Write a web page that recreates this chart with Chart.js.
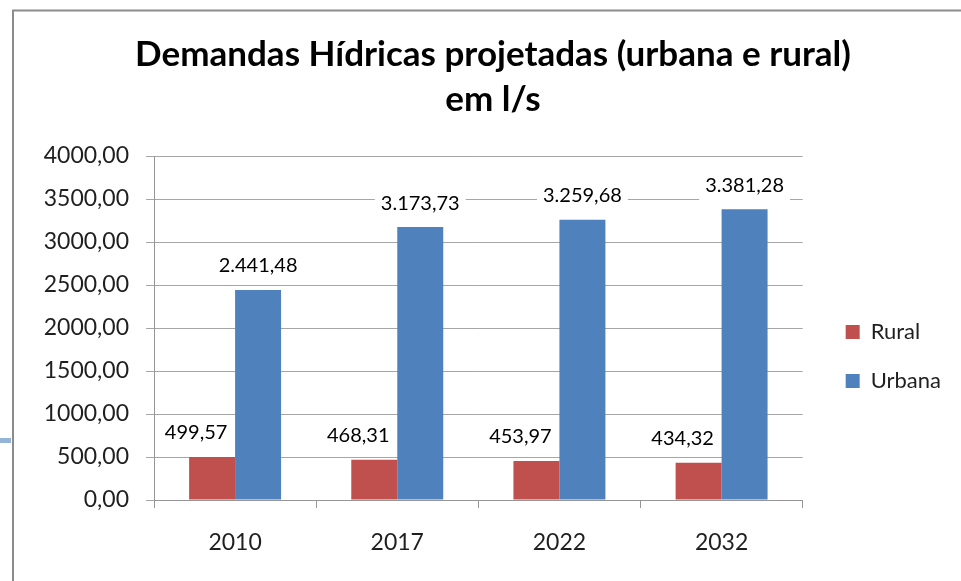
<!DOCTYPE html>
<html lang="pt-BR">
<head>
<meta charset="utf-8">
<title>Demandas Hídricas projetadas</title>
<script src="https://cdn.jsdelivr.net/npm/chart.js@4.4.1/dist/chart.umd.min.js"></script>
<style>
  html, body { margin: 0; padding: 0; background: #fff; }
  canvas { display: block; }
</style>
</head>
<body>
<canvas id="grafico" width="961" height="581"></canvas>
<script>
const anos = ['2010', '2017', '2022', '2032'];
const rural = [499.57, 468.31, 453.97, 434.32];
const urbana = [2441.48, 3173.73, 3259.68, 3381.28];
const eixoMin = 0;
const eixoMax = 4000;
const eixoPasso = 500;

const fonte = 'Lato, "Open Sans", sans-serif';
const corTexto = '#1f1f1f';
const corGrade = '#a6a6a6';
const corEixo = '#969696';

// 2.441,48 (com milhar) ou 4000,00 (sem)
function formatar(v, milhar) {
  let [inteiro, dec] = v.toFixed(2).split('.');
  if (milhar) inteiro = inteiro.replace(/\B(?=(\d{3})+(?!\d))/g, '.');
  return inteiro + ',' + dec;
}

// mede o texto da legenda para deixar a área do gráfico terminar em x=803
const medidor = document.createElement('canvas').getContext('2d');
medidor.font = '22px ' + fonte;
const largLegenda = Math.max(...['Rural', 'Urbana'].map(t => medidor.measureText(t).width));
const padDir = Math.max(0, Math.round(80 - largLegenda));
const padEsq = padDir + 25;

const moldura = {
  id: 'moldura',
  beforeDraw(chart) {
    const ctx = chart.ctx;
    ctx.save();
    ctx.strokeStyle = '#8c8c8c';
    ctx.lineWidth = 2;
    ctx.beginPath();
    ctx.moveTo(13, chart.height);
    ctx.lineTo(13, 10.5);
    ctx.lineTo(chart.width, 10.5);
    ctx.stroke();
    ctx.fillStyle = '#95b3d7';
    ctx.fillRect(0, 438, 11, 5);
    ctx.restore();
  }
};

// rótulos de valor com fundo branco, como no Excel
const rotulos = {
  id: 'rotulos',
  afterDatasetsDraw(chart) {
    const ctx = chart.ctx;
    ctx.save();
    ctx.font = '20px ' + fonte;
    ctx.textAlign = 'center';
    ctx.textBaseline = 'middle';
    chart.data.datasets.forEach((ds, i) => {
      const milhar = i === 1;
      const desloc = i === 0 ? -16 : 0;
      chart.getDatasetMeta(i).data.forEach((bar, j) => {
        const txt = formatar(ds.data[j], milhar);
        const x = bar.x + desloc;
        const y = bar.y - 24;
        const w = ctx.measureText(txt).width + 12;
        ctx.fillStyle = '#fff';
        ctx.fillRect(x - w / 2, y - 16, w, 32);
        ctx.fillStyle = '#000';
        ctx.fillText(txt, x, y);
      });
    });
    ctx.restore();
  }
};

new Chart(document.getElementById('grafico'), {
  type: 'bar',
  data: {
    labels: anos,
    datasets: [
      { label: 'Rural', data: rural, backgroundColor: '#c0504d', categoryPercentage: 0.567, barPercentage: 1 },
      { label: 'Urbana', data: urbana, backgroundColor: '#4f81bd', categoryPercentage: 0.567, barPercentage: 1 }
    ]
  },
  options: {
    responsive: false,
    animation: false,
    devicePixelRatio: 1,
    layout: { padding: { left: padEsq, right: padDir, top: 0, bottom: 24 } },
    plugins: {
      title: {
        display: true,
        text: ['Demandas Hídricas projetadas (urbana e rural)', 'em l/s'],
        color: '#000',
        font: { family: fonte, size: 35, weight: 'bold', lineHeight: 1.286 },
        padding: { top: 32, bottom: 34 }
      },
      legend: {
        position: 'right',
        fullSize: false,
        align: 'center',
        labels: { boxWidth: 14, boxHeight: 14, padding: 27, color: corTexto, font: { family: fonte, size: 22 } },
        // título vazio só para descer os itens
        title: { display: true, text: '', font: { size: 1, lineHeight: 1 }, padding: { top: 56, bottom: 0 } }
      },
      tooltip: { enabled: false }
    },
    scales: {
      x: {
        grid: { display: true, drawOnChartArea: false, drawTicks: true, tickLength: 8, offset: true, color: corEixo },
        border: { display: true, color: corEixo },
        ticks: { color: corTexto, font: { family: fonte, size: 23 }, padding: 21 },
        afterFit(s) { s.height = 57; }
      },
      y: {
        min: eixoMin,
        max: eixoMax,
        grid: { color: corGrade, tickLength: 8 },
        border: { color: corEixo },
        ticks: { stepSize: eixoPasso, padding: 17, color: corTexto, font: { family: fonte, size: 23 }, callback: v => formatar(v, false) },
        afterFit(s) { s.width = 154 - padEsq; }
      },
      folga: {
        type: 'linear',
        position: 'right',
        display: true,
        grid: { display: false },
        border: { display: false },
        ticks: { display: false },
        afterFit(s) { s.width = 16; }
      }
    }
  },
  plugins: [moldura, rotulos]
});
</script>
</body>
</html>
